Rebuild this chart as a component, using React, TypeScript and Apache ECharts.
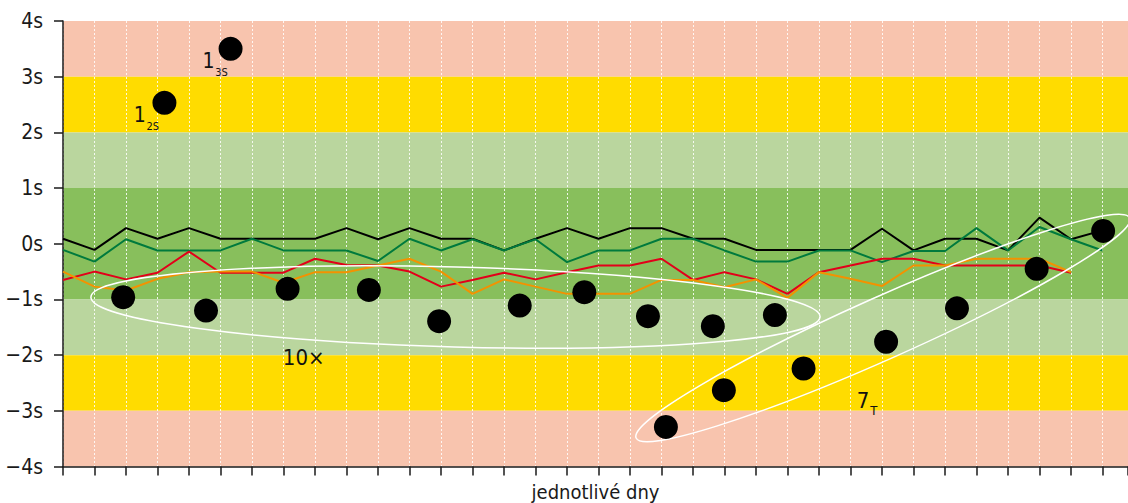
import React, { useEffect, useRef } from "react";
import * as echarts from "echarts";

// Daily control values (in units of s), one entry per day starting at day 0
const blackLine = [
  0.09, -0.11, 0.28, 0.09, 0.28, 0.09, 0.09, 0.09, 0.09, 0.28, 0.08, 0.28,
  0.09, 0.09, -0.12, 0.09, 0.28, 0.09, 0.28, 0.28, 0.09, 0.09, -0.11, -0.11,
  -0.11, -0.11, 0.27, -0.12, 0.09, 0.09, -0.12, 0.47, 0.08, 0.24,
];
const greenLine = [
  -0.11, -0.32, 0.08, -0.12, -0.12, -0.12, 0.09, -0.12, -0.12, -0.12, -0.31,
  0.09, -0.12, 0.08, -0.12, 0.08, -0.33, -0.12, -0.12, 0.09, 0.09, -0.12,
  -0.32, -0.32, -0.12, -0.12, -0.33, -0.13, -0.13, 0.28, -0.12, 0.3, 0.08,
  -0.12,
];
const redLine = [
  -0.65, -0.5, -0.64, -0.52, -0.14, -0.52, -0.52, -0.52, -0.27, -0.38, -0.39,
  -0.5, -0.77, -0.65, -0.52, -0.64, -0.51, -0.39, -0.39, -0.27, -0.65, -0.51,
  -0.64, -0.9, -0.51, -0.39, -0.27, -0.27, -0.39, -0.39, -0.39, -0.39, -0.52,
];
const orangeLine = [
  -0.5, -0.77, -0.84, -0.63, -0.51, -0.5, -0.5, -0.7, -0.51, -0.51, -0.39,
  -0.27, -0.5, -0.9, -0.64, -0.77, -0.9, -0.9, -0.9, -0.65, -0.65, -0.78,
  -0.64, -0.97, -0.51, -0.63, -0.76, -0.39, -0.39, -0.27, -0.27, -0.27, -0.51,
];

// Individual measurements: day position and value
const pointDays = [
  1.91, 3.22, 4.54, 5.32, 7.13, 9.71, 11.94, 14.5, 16.55, 18.57, 19.14, 20.63,
  20.98, 22.6, 23.51, 26.13, 28.38, 30.91, 33.02,
];
const pointValues = [
  -0.96, 2.53, -1.2, 3.5, -0.81, -0.83, -1.39, -1.11, -0.87, -1.3, -3.29,
  -1.48, -2.63, -1.28, -2.24, -1.76, -1.16, -0.45, 0.23,
];

// Y axis ticks
const yTickValues = [-4, -3, -2, -1, 0, 1, 2, 3, 4];
const yTickLabels = ["−4s", "−3s", "−2s", "−1s", "0s", "1s", "2s", "3s", "4s"];

// Control zones: lower and upper limits
const bandLows = [3, 2, 1, -1, -2, -3, -4];
const bandHighs = [4, 3, 2, 1, -1, -2, -3];
const bandColors = [
  "#f8c4ae",
  "#ffdc00",
  "#bad69e",
  "#88bf5c",
  "#bad69e",
  "#ffdc00",
  "#f8c4ae",
];

const FONT =
  "'Liberation Sans Narrow', 'Arial Narrow', 'DejaVu Sans Condensed', sans-serif";

// Rule-violation ellipses: two tips in data units plus half-width in px
const ellipses = [
  { from: [0.89, -0.956], to: [24.03, -1.316], half: 40 },
  { from: [18.19, -3.489], to: [33.87, 0.462], half: 31 },
];

// Rule labels anchored in data units (vertical middle; align gives the anchored edge)
const notes = [
  { text: "1", at: [4.81, 3.29], size: 21, align: "right" },
  { text: "3S", at: [4.83, 3.075], size: 11, align: "left" },
  { text: "1", at: [2.63, 2.32], size: 21, align: "right" },
  { text: "2S", at: [2.65, 2.11], size: 11, align: "left" },
  { text: "10×", at: [6.98, -2.05], size: 22, align: "left" },
  { text: "7", at: [25.6, -2.81], size: 22, align: "right" },
  { text: "T", at: [25.63, -3.0], size: 13, align: "left" },
];

const DAY_MAX = (1128 - 63) / 31.5;

function App() {
  const ref = useRef<HTMLDivElement>(null);

  useEffect(() => {
    if (!ref.current) return;
    const chart = echarts.init(ref.current, null, { renderer: "svg" });

    const toPairs = (arr: number[]) => arr.map((v, i) => [i, v]);

    const lineSeries = (name: string, arr: number[], color: string) => ({
      name,
      type: "line",
      data: toPairs(arr),
      showSymbol: false,
      symbol: "none",
      z: 3,
      lineStyle: { color, width: 2 },
      silent: true,
    });

    chart.setOption({
      animation: false,
      textStyle: { fontFamily: FONT },
      grid: {
        left: 63,
        top: 21,
        right: 0,
        bottom: 36.5,
        containLabel: false,
        outerBoundsMode: "none",
      },
      xAxis: {
        type: "value",
        min: 0,
        max: DAY_MAX,
        interval: 1,
        z: 1,
        name: "jednotlivé dny",
        nameLocation: "middle",
        nameGap: 15,
        nameTextStyle: { fontSize: 20, color: "#1a1a1a", fontFamily: FONT },
        axisLine: { onZero: false, lineStyle: { color: "#1a1a1a", width: 1.5 } },
        axisTick: { show: true, length: 9, lineStyle: { color: "#1a1a1a", width: 1.5 } },
        axisLabel: { show: false },
        splitLine: {
          show: true,
          lineStyle: { color: "rgba(255,255,255,0.85)", width: 1, type: [2, 2] },
        },
      },
      yAxis: {
        type: "value",
        min: -4,
        max: 4,
        interval: 1,
        z: 1,
        axisLine: { onZero: false, lineStyle: { color: "#1a1a1a", width: 1.5 } },
        axisTick: { show: true, length: 9, lineStyle: { color: "#1a1a1a", width: 1.5 } },
        axisLabel: {
          margin: 20,
          fontSize: 21,
          color: "#1a1a1a",
          fontFamily: FONT,
          formatter: (v: number) => {
            const i = yTickValues.indexOf(Math.round(v));
            return i >= 0 ? yTickLabels[i] : "";
          },
        },
        splitLine: { show: false },
      },
      series: [
        {
          type: "custom",
          name: "zones",
          z: 0,
          silent: true,
          clip: false,
          data: bandLows.map((lo, i) => [0, lo, bandHighs[i]]),
          encode: { x: 0, y: [1, 2] },
          renderItem: (params: any, api: any) => {
            const cs = params.coordSys;
            const lo = api.value(1);
            const hi = api.value(2);
            const yTop = api.coord([0, hi])[1];
            const yBot = api.coord([0, lo])[1];
            return {
              type: "rect",
              shape: { x: cs.x, y: yTop, width: cs.width, height: yBot - yTop },
              style: { fill: bandColors[params.dataIndex] },
            };
          },
        },
        lineSeries("black", blackLine, "#000000"),
        lineSeries("green", greenLine, "#007a3d"),
        lineSeries("red", redLine, "#e2001a"),
        lineSeries("orange", orangeLine, "#f39200"),
        {
          type: "custom",
          name: "rules",
          z: 4,
          silent: true,
          clip: false,
          data: ellipses.map((e) => [e.from[0], e.from[1], e.to[0], e.to[1]]),
          encode: { x: [0, 2], y: [1, 3] },
          renderItem: (params: any, api: any) => {
            const e = ellipses[params.dataIndex];
            const p1 = api.coord([api.value(0), api.value(1)]);
            const p2 = api.coord([api.value(2), api.value(3)]);
            const dx = p2[0] - p1[0];
            const dy = p2[1] - p1[1];
            return {
              type: "ellipse",
              x: (p1[0] + p2[0]) / 2,
              y: (p1[1] + p2[1]) / 2,
              rotation: -Math.atan2(dy, dx),
              shape: { cx: 0, cy: 0, rx: Math.sqrt(dx * dx + dy * dy) / 2, ry: e.half },
              style: { fill: "none", stroke: "#ffffff", lineWidth: 1.5 },
            };
          },
        },
        {
          type: "scatter",
          name: "measurements",
          z: 5,
          silent: true,
          symbolSize: 24,
          itemStyle: { color: "#000000", opacity: 1 },
          data: pointDays.map((d, i) => [d, pointValues[i]]),
        },
        {
          type: "custom",
          name: "notes",
          z: 6,
          silent: true,
          clip: false,
          data: notes.map((n) => [n.at[0], n.at[1]]),
          encode: { x: 0, y: 1 },
          renderItem: (params: any, api: any) => {
            const n = notes[params.dataIndex];
            const p = api.coord([api.value(0), api.value(1)]);
            return {
              type: "text",
              x: p[0],
              y: p[1],
              style: {
                text: n.text,
                fontSize: n.size,
                fontFamily: FONT,
                fill: "#111111",
                align: n.align,
                verticalAlign: "middle",
              },
            };
          },
        },
      ],
    });

    return () => chart.dispose();
  }, []);

  return (
    <div
      ref={ref}
      style={{ position: "absolute", left: 0, top: 0, width: 1128, height: 503 }}
    />
  );
}

export default App;
